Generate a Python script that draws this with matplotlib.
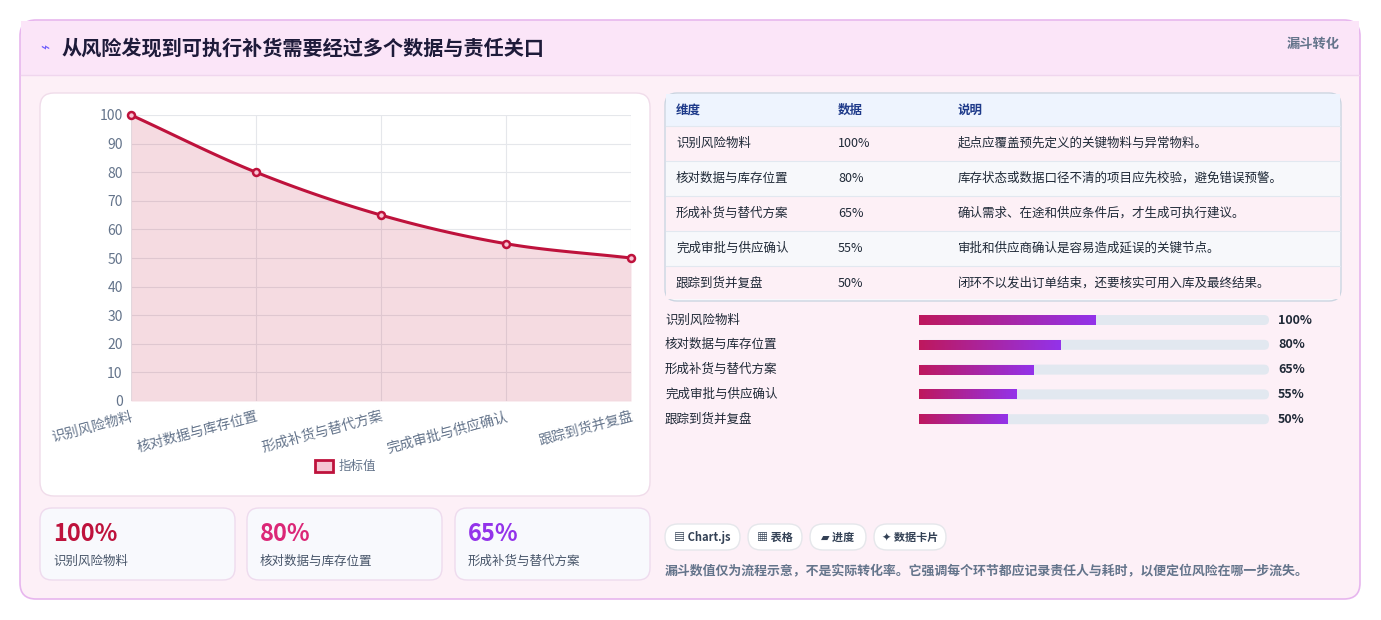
import matplotlib
matplotlib.use("Agg")
import matplotlib.pyplot as plt
import numpy as np
from matplotlib.patches import FancyBboxPatch, Rectangle

plt.rcParams['font.family'] = ['Noto Sans CJK SC', 'DejaVu Sans']

W, H = 1381, 620

stages = ["识别风险物料", "核对数据与库存位置", "形成补货与替代方案", "完成审批与供应确认", "跟踪到货并复盘"]
values = [100, 80, 65, 55, 50]
notes = ["起点应覆盖预先定义的关键物料与异常物料。",
         "库存状态或数据口径不清的项目应先校验，避免错误预警。",
         "确认需求、在途和供应条件后，才生成可执行建议。",
         "审批和供应商确认是容易造成延误的关键节点。",
         "闭环不以发出订单结束，还要核实可用入库及最终结果。"]
kpi_colors = ["#be123c", "#db2777", "#9333ea"]
chips = ["▤ Chart.js", "▦ 表格", "▰ 进度", "✦ 数据卡片"]

fig = plt.figure(figsize=(W / 100, H / 100), dpi=100)
bg = fig.add_axes([0, 0, 1, 1])
bg.set_xlim(0, W)
bg.set_ylim(H, 0)
bg.axis("off")


def box(x, y, w, h, fc, ec="none", r=12, lw=1, z=1):
    bg.add_patch(FancyBboxPatch((x, y), w, h, boxstyle=f"round,pad=0,rounding_size={r}",
                                fc=fc, ec=ec, lw=lw, zorder=z))


# outer card + header
box(20, 20, 1340, 579, "#fdf0f7", "#e7b6ee", r=16, lw=1.2)
bg.add_patch(Rectangle((21, 21), 1338, 54, fc="#fbe5f8", ec="none", zorder=1.5))
bg.plot([21, 1359], [75, 75], color="#f0d6ee", lw=1, zorder=2)
bg.text(40, 48, "⌁", color="#6d5dfc", fontsize=11, va="center", zorder=3)
bg.text(62, 48, "从风险发现到可执行补货需要经过多个数据与责任关口", fontsize=14.5,
        fontweight="bold", color="#1e1b3a", va="center", zorder=3)
bg.text(1340, 44, "漏斗转化", fontsize=9.5, color="#64748b", ha="right", va="center",
        fontweight="bold", zorder=3)

# chart panel
box(40, 93, 610, 403, "white", "#f0dcea", r=14, z=2)
ax = fig.add_axes([131 / W, 1 - 401 / H, 500 / W, 286 / H])
ax.set_facecolor("none")
x = np.arange(len(values))
# smooth curve through the points (Catmull-Rom, display only)
pts = np.array(values, dtype=float)
ext = np.concatenate([[2 * pts[0] - pts[1]], pts, [2 * pts[-1] - pts[-2]]])
xs, ys = [], []
for i in range(len(pts) - 1):
    p0, p1, p2, p3 = ext[i], ext[i + 1], ext[i + 2], ext[i + 3]
    t = np.linspace(0, 1, 30)
    yy = 0.5 * ((2 * p1) + (-p0 + p2) * t + (2 * p0 - 5 * p1 + 4 * p2 - p3) * t ** 2
                + (-p0 + 3 * p1 - 3 * p2 + p3) * t ** 3)
    xs.extend(i + t)
    ys.extend(yy)
ax.fill_between(xs, ys, 0, color="#be123c", alpha=0.15, lw=0)
ax.plot(xs, ys, color="#be123c", lw=2.2, clip_on=False)
ax.plot(x, values, "o", ms=5, mfc="#f9c4d4", mec="#be123c", mew=1.8, clip_on=False, zorder=5)
ax.set_xlim(0, len(values) - 1)
ax.set_ylim(0, 100)
ax.set_yticks(range(0, 101, 10))
ax.set_xticks(x)
ax.set_xticklabels(stages, rotation=15, ha="right", rotation_mode="anchor")
ax.tick_params(colors="#64748b", labelsize=10, length=0, pad=6)
ax.grid(color="#e5e7eb", lw=0.8)
for s in ax.spines.values():
    s.set_visible(False)
ax.set_axisbelow(True)

bg.add_patch(Rectangle((315, 460), 18, 12, fc="#f5c6d3", ec="#be123c", lw=2, zorder=3))
bg.text(339, 466, "指标值", fontsize=9, color="#64748b", va="center", zorder=3)

# KPI cards
for i, xk in enumerate([40, 247, 455]):
    box(xk, 508, 195, 72, "#f8f9fd", "#eedbee", r=12, z=2)
    bg.text(xk + 13, 534, f"{values[i]}%", fontsize=17, fontweight="heavy",
            color=kpi_colors[i], va="center", zorder=3)
    bg.text(xk + 13, 561, stages[i], fontsize=9, color="#475569", va="center", zorder=3)

# table
box(665, 93, 676, 208, "#f8f9fc", "#cbd5e1", r=12, z=2)
bg.add_patch(Rectangle((666, 94), 674, 32, fc="#eef4fe", ec="none", zorder=2.5))
cols = [676, 838, 958]
for c, t in zip(cols, ["维度", "数据", "说明"]):
    bg.text(c, 110, t, fontsize=9, color="#1e3a8a", fontweight="bold", va="center", zorder=3)
for i in range(len(stages)):
    y0 = 126 + 35 * i
    fc = "#fdf0f6" if i % 2 == 0 else "#f7f8fb"
    bg.add_patch(Rectangle((666, y0), 674, 35 if i < 4 else 33, fc=fc, ec="none", zorder=2.5))
    bg.plot([666, 1340], [y0, y0], color="#e2e8f0", lw=0.8, zorder=2.6)
    for c, t in zip(cols, [stages[i], f"{values[i]}%", notes[i]]):
        bg.text(c, y0 + 17.5, t, fontsize=9, color="#1f2937", va="center", zorder=3,
                fontweight="medium")

# progress bars
grad = np.linspace(0, 1, 256).reshape(1, -1)
cmap = matplotlib.colors.LinearSegmentedColormap.from_list("g", ["#be185d", "#9333ea"])
for i, v in enumerate(values):
    yc = 320 + 24.8 * i
    bg.text(665, yc, stages[i], fontsize=9, color="#1f2937", va="center", zorder=3,
            fontweight="medium")
    box(919, yc - 5, 350, 10, "#e2e8f0", r=5, z=2)
    wf = 350 * 0.505 * v / 100
    bg.imshow(grad, cmap=cmap, extent=(919, 919 + wf, yc + 5, yc - 5), aspect="auto", zorder=3)
    bg.text(1278, yc, f"{v}%", fontsize=9, color="#1f2937", fontweight="bold", va="center", zorder=3)
bg.set_xlim(0, W)
bg.set_ylim(H, 0)

# chips
for (xc, wc), t in zip([(665, 75), (748, 54), (810, 56), (874, 72)], chips):
    box(xc, 524, wc, 26, "white", "#e5e7eb", r=13, z=2)
    bg.text(xc + wc / 2, 537, t, fontsize=8, color="#334155", fontweight="bold",
            ha="center", va="center", zorder=3)
bg.text(665, 571, "漏斗数值仅为流程示意，不是实际转化率。它强调每个环节都应记录责任人与耗时，以便定位风险在哪一步流失。",
        fontsize=9.3, color="#64748b", va="center", zorder=3, fontweight="bold")

fig.savefig("out.png", dpi=100)
